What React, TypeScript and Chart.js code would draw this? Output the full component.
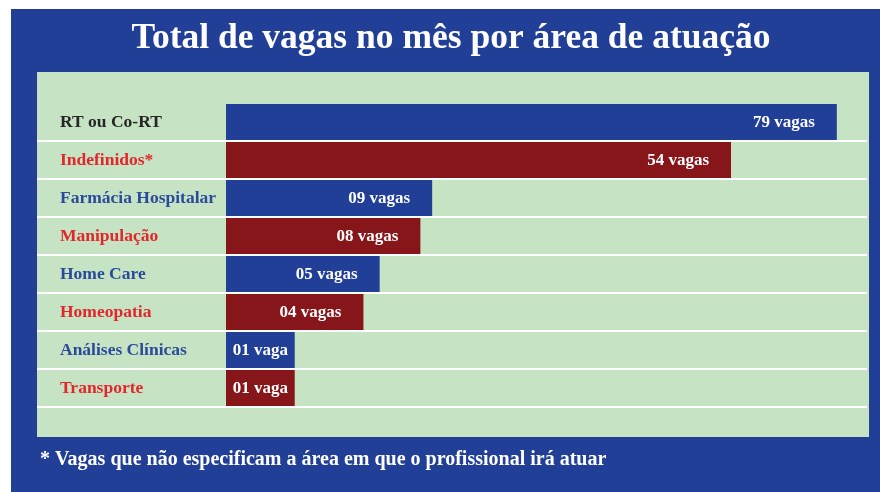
import React, { useEffect, useRef } from "react";
import { Chart, registerables, LinearScale } from "chart.js";

Chart.register(...registerables);

class SqrtScale extends LinearScale {
  static id = "sqrt";
  static defaults = LinearScale.defaults;
  getPixelForValue(value: number) {
    const lo = Math.sqrt(Math.max(0, this.min));
    const hi = Math.sqrt(Math.max(0, this.max));
    const v = Math.sqrt(Math.max(0, value));
    return this.getPixelForDecimal((v - lo) / (hi - lo));
  }
  getValueForPixel(pixel: number) {
    const lo = Math.sqrt(Math.max(0, this.min));
    const hi = Math.sqrt(Math.max(0, this.max));
    const s = lo + this.getDecimalForPixel(pixel) * (hi - lo);
    return s * s;
  }
}
Chart.register(SqrtScale as any);

const TITLE = "Total de vagas no mês por área de atuação";
const FOOTNOTE = "* Vagas que não especificam a área em que o profissional irá atuar";

const categories = [
  "RT ou Co-RT",
  "Indefinidos*",
  "Farmácia Hospitalar",
  "Manipulação",
  "Home Care",
  "Homeopatia",
  "Análises Clínicas",
  "Transporte",
];
const vagas = [79, 54, 9, 8, 5, 4, 1, 1];
const scaleMax = 87;

const BLUE = "#223F98";
const RED = "#87161A";
const GREEN = "#C6E3C3";
const barColors = [BLUE, RED, BLUE, RED, BLUE, RED, BLUE, RED];
const labelColors = ["#262626", "#E3262B", "#2B4A9B", "#E3262B", "#2B4A9B", "#E3262B", "#2B4A9B", "#E3262B"];

const SERIF = "'Liberation Serif', 'DejaVu Serif', serif";

const valueText = (v: number) => `${String(v).padStart(2, "0")} ${v === 1 ? "vaga" : "vagas"}`;

const framePlugin = {
  id: "frame",
  beforeDraw(chart: any) {
    const ctx = chart.ctx;
    ctx.save();
    ctx.fillStyle = "#ffffff";
    ctx.fillRect(0, 0, chart.width, chart.height);
    ctx.fillStyle = BLUE;
    ctx.fillRect(11, 9, chart.width - 11, chart.height - 9);
    ctx.fillStyle = GREEN;
    ctx.fillRect(37, 72, 832, 365);
    ctx.fillStyle = "#ffffff";
    ctx.textBaseline = "alphabetic";
    ctx.font = `bold 35.5px ${SERIF}`;
    ctx.textAlign = "center";
    ctx.fillText(TITLE, 451, 48);
    ctx.font = `bold 20px ${SERIF}`;
    ctx.textAlign = "left";
    ctx.fillText(FOOTNOTE, 40, 465);
    ctx.restore();
  },
  afterDatasetsDraw(chart: any) {
    const ctx = chart.ctx;
    const meta = chart.getDatasetMeta(0);
    ctx.save();
    ctx.font = `bold 17px ${SERIF}`;
    ctx.fillStyle = "#ffffff";
    ctx.textBaseline = "middle";
    ctx.textAlign = "right";
    meta.data.forEach((bar: any, i: number) => {
      const txt = valueText(vagas[i]);
      const w = ctx.measureText(txt).width;
      const barW = bar.x - bar.base;
      const pad = Math.min(22, (barW - w) / 2);
      ctx.fillText(txt, bar.x - pad, bar.y + 1);
    });
    ctx.restore();
  },
};

export default function App() {
  const ref = useRef<HTMLCanvasElement | null>(null);
  useEffect(() => {
    document.body.style.margin = "0";
    const canvas = ref.current!;
    const chart = new Chart(canvas, {
      type: "bar",
      data: {
        labels: categories,
        datasets: [
          {
            data: vagas,
            backgroundColor: barColors,
            borderWidth: 0,
            barPercentage: 1,
            categoryPercentage: 36 / 38,
          },
        ],
      },
      options: {
        indexAxis: "y",
        animation: false,
        responsive: false,
        devicePixelRatio: 1,
        layout: { padding: { left: 60, right: 13, top: 103, bottom: 85 } },
        plugins: { legend: { display: false }, tooltip: { enabled: false }, title: { display: false } },
        scales: {
          x: { type: "sqrt" as any, display: false, min: 0, max: scaleMax },
          y: {
            position: "left",
            afterFit(scale: any) {
              scale.width = 166;
            },
            border: { display: false },
            grid: {
              color: (c: any) => (c.index === 0 ? "rgba(0,0,0,0)" : "#ffffff"),
              lineWidth: 2,
              tickLength: 189,
              drawTicks: true,
            },
            ticks: {
              crossAlign: "far",
              color: (c: any) => labelColors[c.index] ?? "#000",
              font: { family: SERIF, size: 17.5, weight: "bold" },
            },
          },
        },
      },
      plugins: [framePlugin],
    } as any);
    return () => chart.destroy();
  }, []);
  return (
    <div style={{ position: "absolute", left: 0, top: 0, width: 880, height: 492 }}>
      <canvas ref={ref} width={880} height={492} />
    </div>
  );
}
